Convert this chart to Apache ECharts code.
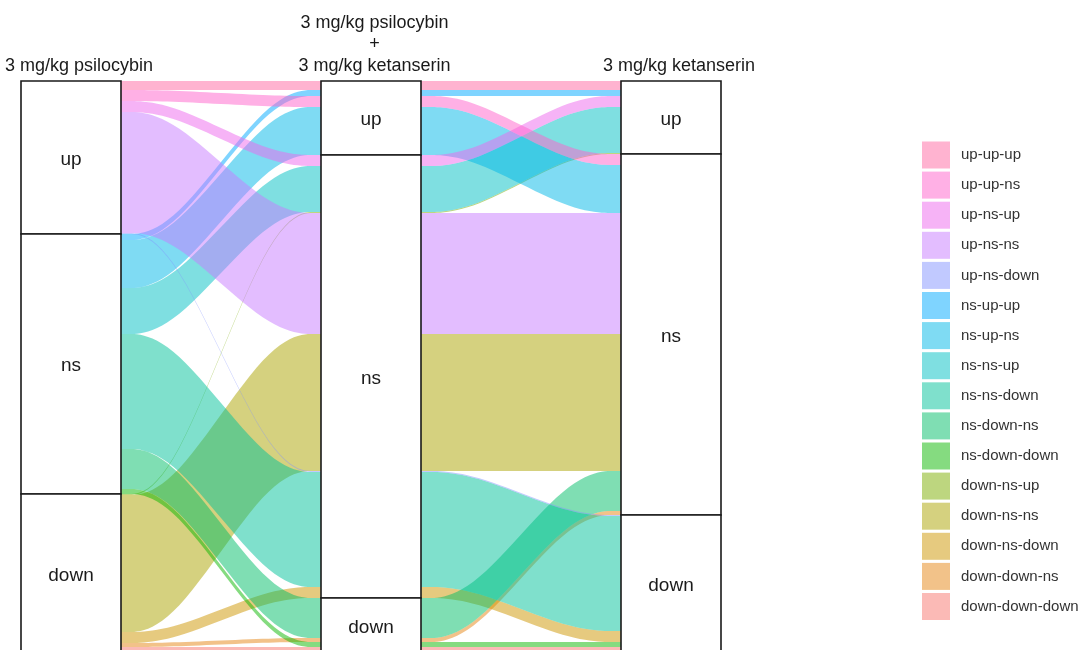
<!DOCTYPE html>
<html>
<head>
<meta charset="utf-8">
<script src="https://cdn.jsdelivr.net/npm/echarts@6/dist/echarts.min.js"></script>
<style>
  html, body { margin: 0; padding: 0; background: #fff; overflow: hidden; }
  #chart { width: 1081px; height: 650px; }
</style>
</head>
<body>
<div id="chart"></div>
<script>
// Conditions, one axis each, left to right
const axisNames = [
  '3 mg/kg psilocybin',
  '3 mg/kg psilocybin\n+\n3 mg/kg ketanserin',
  '3 mg/kg ketanserin'
];
// Response strata, top to bottom
const strata = ['up', 'ns', 'down'];
// Response pattern across the three conditions, and how many fall in each
const patterns = [
  'up-up-up', 'up-up-ns', 'up-ns-up', 'up-ns-ns', 'up-ns-down',
  'ns-up-up', 'ns-up-ns', 'ns-ns-up', 'ns-ns-down', 'ns-down-ns', 'ns-down-down',
  'down-ns-up', 'down-ns-ns', 'down-ns-down', 'down-down-ns', 'down-down-down'
];
const counts = [9, 11, 11, 121, 1, 6, 48, 46, 115, 40, 5, 1, 137, 11, 4, 6];

// Fill colours (hue palette), one per pattern
const palette = [
  '#FF68A1', '#FF61CC', '#ED68ED', '#C77CFF', '#8494FF',
  '#00A9FF', '#00B8E7', '#00BFC4', '#00C19A', '#00BE67', '#0CB702',
  '#7CAE00', '#ABA300', '#CD9600', '#E68613', '#F8766D'
];

const FONT = '"Liberation Sans", Arial, sans-serif';
const ALPHA = 0.5;
const AXIS_STEP = 6;      // distance between axes, in x units
const HALF_W = 1;         // half of a stratum's width, in x units
const KNOT = 0.25;        // spline knot distance, as a share of the gap

function rgba(hex, a) {
  const n = parseInt(hex.slice(1), 16);
  return 'rgba(' + (n >> 16) + ',' + ((n >> 8) & 255) + ',' + (n & 255) + ',' + a + ')';
}

const nAxes = axisNames.length;
const axisPos = axisNames.map((_, a) => AXIS_STEP / 2 + AXIS_STEP * a);
const total = counts.reduce((s, v) => s + v, 0);
const paths = patterns.map(p => p.split('-').map(s => strata.indexOf(s)));

// Lode order inside each stratum: own stratum first, then zigzag outward to the other axes
function compareOrder(a) {
  const order = [a];
  for (let d = 1; d < nAxes; d++) {
    if (a + d < nAxes) order.push(a + d);
    if (a - d >= 0) order.push(a - d);
  }
  return order;
}
const lodeTop = axisNames.map((_, a) => {
  const keys = compareOrder(a);
  const idx = patterns.map((_, i) => i).sort((i, j) => {
    for (const k of keys) {
      if (paths[i][k] !== paths[j][k]) return paths[i][k] - paths[j][k];
    }
    return i - j;
  });
  const top = new Array(patterns.length);
  let acc = 0;
  idx.forEach(i => { top[i] = acc; acc += counts[i]; });
  return top;
});

// Stratum boxes: [axis position, start, size, stratum index]
const strataData = [];
for (let a = 0; a < nAxes; a++) {
  let start = 0;
  strata.forEach((_, s) => {
    let size = 0;
    paths.forEach((p, i) => { if (p[a] === s) size += counts[i]; });
    strataData.push([axisPos[a], start, size, s]);
    start += size;
  });
}

// Cubic B-spline through tripled end points, flat at both ends
function flowCurve(p0, p3, steps) {
  const k = (p3[0] - p0[0]) * KNOT;
  const P = [p0, p0, p0, [p0[0] + k, p0[1]], [p3[0] - k, p3[1]], p3, p3, p3];
  const pts = [];
  for (let s = 0; s < P.length - 3; s++) {
    for (let j = 0; j < steps; j++) {
      const t = j / steps;
      const b0 = Math.pow(1 - t, 3) / 6;
      const b1 = (3 * t * t * t - 6 * t * t + 4) / 6;
      const b2 = (-3 * t * t * t + 3 * t * t + 3 * t + 1) / 6;
      const b3 = t * t * t / 6;
      pts.push([
        b0 * P[s][0] + b1 * P[s + 1][0] + b2 * P[s + 2][0] + b3 * P[s + 3][0],
        b0 * P[s][1] + b1 * P[s + 1][1] + b2 * P[s + 2][1] + b3 * P[s + 3][1]
      ]);
    }
  }
  pts.push(p3);
  return pts;
}

function edge(i, offset) {
  let pts = [];
  for (let a = 0; a < nAxes; a++) {
    const x = axisPos[a];
    const y = lodeTop[a][i] + offset;
    if (a === 0) pts.push([x - HALF_W, y]);
    else {
      const prev = pts[pts.length - 1];
      pts = pts.concat(flowCurve(prev, [x - HALF_W, y], 12).slice(1));
    }
    pts.push([x + HALF_W, y]);
  }
  return pts;
}

function alluviumSeries(i) {
  const fill = rgba(palette[i], ALPHA);
  return {
    type: 'custom',
    name: patterns[i],
    itemStyle: { color: fill },
    data: [[axisPos[0], lodeTop[0][i]]],
    encode: { x: 0, y: 1 },
    silent: true,
    renderItem: function (params, api) {
      const top = edge(i, 0);
      const bottom = edge(i, counts[i]).reverse();
      const points = top.concat(bottom).map(p => api.coord(p));
      return { type: 'polygon', shape: { points: points }, style: { fill: fill } };
    }
  };
}

// Draw the last pattern first so the first one sits on top
const series = [];
for (let i = patterns.length - 1; i >= 0; i--) series.push(alluviumSeries(i));

series.push({
  type: 'custom',
  name: 'strata',
  data: strataData,
  encode: { x: 0, y: 1 },
  silent: true,
  z: 5,
  renderItem: function (params, api) {
    const x = api.value(0), start = api.value(1), size = api.value(2);
    const p0 = api.coord([x - HALF_W, start]);
    const p1 = api.coord([x + HALF_W, start + size]);
    const mid = api.coord([x, start + size / 2]);
    return {
      type: 'group',
      children: [
        {
          type: 'rect',
          shape: { x: p0[0], y: p0[1], width: p1[0] - p0[0], height: p1[1] - p0[1] },
          style: { fill: '#ffffff', stroke: '#1a1a1a', lineWidth: 1.6 }
        },
        {
          type: 'text',
          x: mid[0], y: mid[1] + 2,
          style: {
            text: strata[api.value(3)], fill: '#1a1a1a', font: '19px ' + FONT,
            align: 'center', verticalAlign: 'middle'
          }
        }
      ]
    };
  }
});

const chart = echarts.init(document.getElementById('chart'), null, { renderer: 'canvas' });
chart.setOption({
  animation: false,
  backgroundColor: '#ffffff',
  grid: { left: 21, top: 81, width: 700, height: total, outerBoundsMode: 'none', containLabel: false },
  xAxis: {
    type: 'value', min: 2, max: 16, position: 'top',
    axisLine: { show: false }, axisTick: { show: false }, splitLine: { show: false },
    axisLabel: {
      customValues: axisPos,
      margin: 4.5,
      formatter: function (v) {
        const a = axisPos.indexOf(v);
        const style = a === 1 ? 'mid' : 'side';
        return axisNames[a].split('\n').map(t => '{' + style + '|' + t + '}').join('\n');
      },
      rich: {
        side: { fontSize: 18, fontFamily: FONT, color: '#1a1a1a', lineHeight: 21.5, padding: [0, 0, 0, 16] },
        mid: { fontSize: 18, fontFamily: FONT, color: '#1a1a1a', lineHeight: 21.5, padding: [0, 0, 0, 7] }
      }
    }
  },
  yAxis: { type: 'value', inverse: true, min: 0, max: total, show: false },
  legend: {
    data: patterns,
    orient: 'vertical',
    left: 917, top: 136.5,
    itemWidth: 28, itemHeight: 27, itemGap: 3.1,
    icon: 'rect',
    selectedMode: false,
    textStyle: { fontSize: 15, color: '#333333', fontFamily: FONT, padding: [0, 0, 0, 6] }
  },
  series: series
});
</script>
</body>
</html>
